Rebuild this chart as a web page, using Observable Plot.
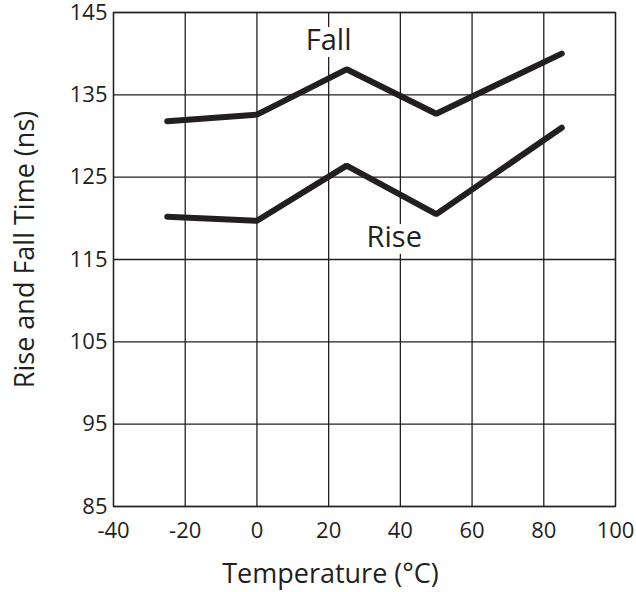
<!DOCTYPE html>
<html>
<head>
<meta charset="utf-8">
<script src="https://cdn.jsdelivr.net/npm/d3@7"></script>
<script src="https://cdn.jsdelivr.net/npm/@observablehq/plot@0.6"></script>
<style>
  html, body { margin: 0; padding: 0; background: #fff; }
  #chart svg { display: block; }
</style>
</head>
<body>
<div id="chart"></div>
<script>
const temperature = [-25, 0, 25, 50, 85];
const fallTime = [131.8, 132.6, 138.1, 132.7, 140.0];
const riseTime = [120.2, 119.7, 126.4, 120.5, 131.0];
const xTicks = [-40, -20, 0, 20, 40, 60, 80, 100];
const yTicks = [85, 95, 105, 115, 125, 135, 145];
const seriesLabels = [
  {name: "Fall", x: 20, y: 141.6},
  {name: "Rise", x: 38.3, y: 117.6}
];
const xLabel = "Temperature (°C)";
const yLabel = "Rise and Fall Time (ns)";

const rows = [];
temperature.forEach((t, i) => {
  rows.push({series: "Fall", t, v: fallTime[i]});
  rows.push({series: "Rise", t, v: riseTime[i]});
});

const ink = "#231f20";
const font = "'Open Sans', sans-serif";

const chart = Plot.plot({
  width: 636,
  height: 592,
  marginLeft: 113,
  marginRight: 21,
  marginTop: 12,
  marginBottom: 86,
  style: {fontFamily: font, color: ink, background: "#fff"},
  x: {domain: [-40, 100]},
  y: {domain: [85, 145]},
  marks: [
    Plot.gridX(xTicks, {stroke: ink, strokeOpacity: 1, strokeWidth: 1.3}),
    Plot.gridY(yTicks, {stroke: ink, strokeOpacity: 1, strokeWidth: 1.3}),
    Plot.frame({stroke: ink, strokeWidth: 1.3}),
    Plot.axisX(xTicks, {tickSize: 0, tickPadding: 16, fontSize: 22, label: null, fill: ink,
      tickFormat: d => String(d)}),
    Plot.axisY(yTicks, {tickSize: 0, tickPadding: 6, fontSize: 22, label: null, fill: ink,
      tickFormat: d => String(d)}),
    Plot.line(rows, {x: "t", y: "v", z: "series", stroke: ink, strokeWidth: 6,
      strokeLinecap: "round", strokeLinejoin: "miter"}),
    Plot.text(seriesLabels, {x: "x", y: "y", text: "name", fontSize: 29, fill: ink,
      stroke: "white", strokeWidth: 14, strokeLinejoin: "round"}),
    Plot.text([xLabel], {frameAnchor: "bottom", text: d => d, textAnchor: "middle",
      dx: -34, dy: 76, fontSize: 27, fill: ink}),
    Plot.text([yLabel], {frameAnchor: "left", text: d => d, textAnchor: "middle", rotate: -90,
      dx: -88, dy: -10, fontSize: 27, fill: ink})
  ]
});
document.getElementById("chart").appendChild(chart);
</script>
</body>
</html>
